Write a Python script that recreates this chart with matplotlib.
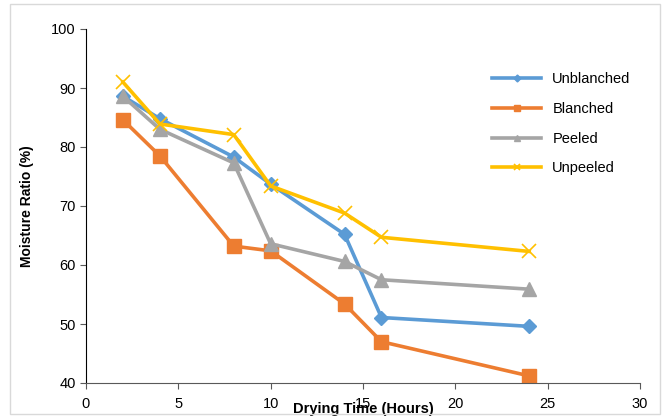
import matplotlib
matplotlib.use("Agg")
import matplotlib.pyplot as plt
from matplotlib.patches import Rectangle

# Donnees
hours = [2, 4, 8, 10, 14, 16, 24]
unblanched = [88.6, 84.8, 78.3, 73.7, 65.2, 51.1, 49.6]
blanched = [84.6, 78.5, 63.2, 62.4, 53.4, 47.0, 41.2]
peeled = [88.6, 83.0, 77.3, 63.6, 60.6, 57.5, 55.9]
unpeeled = [91.0, 83.9, 82.1, 73.4, 68.8, 64.7, 62.3]

plt.rcParams['font.family'] = ['Liberation Sans', 'DejaVu Sans']

fig = plt.figure(figsize=(6.7, 4.18), dpi=100)
ax = fig.add_axes([86/670, 1 - 383/418, (640-86)/670, (383-29)/418])

# Cadre gris clair autour du graphique
fig.patches.append(Rectangle((10/670, 4/418), 650/670, 410/418, transform=fig.transFigure,
                             fill=False, edgecolor='#D9D9D9', linewidth=1))

ax.plot(hours, unblanched, color='#5B9BD5', lw=2.6, marker='D', ms=7, label='Unblanched')
ax.plot(hours, blanched, color='#ED7D31', lw=2.6, marker='s', ms=10, label='Blanched')
ax.plot(hours, peeled, color='#A5A5A5', lw=2.6, marker='^', ms=10, label='Peeled')
ax.plot(hours, unpeeled, color='#FFC000', lw=2.6, marker='x', ms=10, mew=1.2, label='Unpeeled')

ax.set_xlim(0, 30)
ax.set_ylim(40, 100)
ax.set_xticks(range(0, 31, 5))
ax.set_yticks(range(40, 101, 10))
ax.spines['top'].set_visible(False)
ax.spines['right'].set_visible(False)
ax.spines['bottom'].set_color('#595959')
ax.spines['left'].set_color('black')
ax.tick_params(labelsize=10.5, length=4, color='#595959')
ax.tick_params(axis='x', pad=6)

ax.set_ylabel('Moisture Ratio (%)', fontsize=10, fontweight='bold', labelpad=12)
ax.xaxis.set_label_coords(0.5, -0.055)
ax.set_xlabel('Drying Time (Hours)', fontsize=10.5, fontweight='bold', va='top')

leg = ax.legend(loc='upper left', bbox_to_anchor=(0.71, 0.915), frameon=False, fontsize=10.5,
                handlelength=3.3, labelspacing=1.08, markerscale=0.5)

plt.savefig('out.png', dpi=100)
